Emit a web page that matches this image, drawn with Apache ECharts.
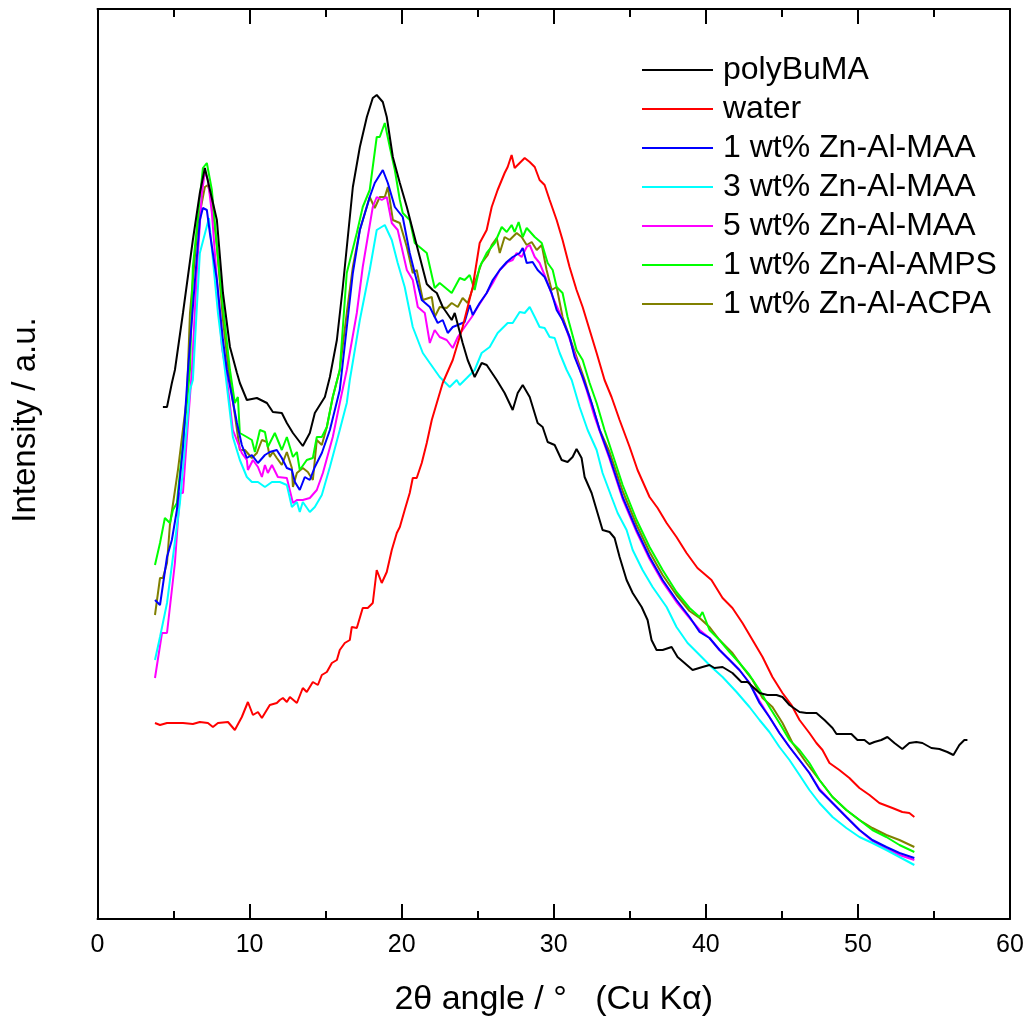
<!DOCTYPE html>
<html>
<head>
<meta charset="utf-8">
<script src="https://cdn.jsdelivr.net/npm/echarts@6/dist/echarts.min.js"></script>
<style>
html,body{margin:0;padding:0;background:#fff;}
#chart{width:1031px;height:1024px;}
</style>
</head>
<body>
<div id="chart"></div>
<script>
// ---- data: [2theta (deg), intensity (a.u.)] ----
const seriesNames = ['polyBuMA','water','1 wt% Zn-Al-MAA','3 wt% Zn-Al-MAA','5 wt% Zn-Al-MAA','1 wt% Zn-Al-AMPS','1 wt% Zn-Al-ACPA'];
const seriesColors = ['#000000','#ff0000','#0000ff','#00ffff','#ff00ff','#00ff00','#808000'];
const xTicks = [0,10,20,30,40,50,60];

const polyBuMA = [[4.30,512],[4.57,512],[4.89,536],[5.09,549],[5.62,606],[6.27,679],[6.73,726],[7.06,751],[7.85,699],[8.25,626],[8.71,572],[9.17,546],[9.36,536],[9.82,519],[10.48,521],[11.14,516],[11.53,507],[12.12,506],[12.45,496],[12.85,486],[13.50,473],[13.96,486],[14.29,506],[14.95,522],[15.28,542],[15.74,579],[16.13,632],[16.79,732],[17.25,772],[17.71,802],[18.10,821],[18.36,824],[18.76,817],[19.02,802],[19.42,762],[19.88,736],[20.34,712],[20.73,689],[21.19,662],[21.65,635],[22.04,629],[22.31,626],[22.70,612],[23.29,599],[23.49,606],[24.01,576],[24.34,559],[24.80,542],[25.26,556],[25.59,554],[26.25,539],[26.77,526],[27.30,509],[27.63,526],[27.96,534],[28.42,522],[28.94,496],[29.27,492],[29.60,477],[30.06,474],[30.52,459],[30.91,457],[31.24,462],[31.50,470],[31.83,461],[32.03,442],[32.49,426],[32.82,409],[33.21,389],[33.67,387],[34.00,381],[34.33,362],[34.79,339],[35.19,326],[35.78,312],[36.17,299],[36.43,279],[36.76,269],[37.16,269],[37.75,272],[38.14,262],[38.60,256],[39.13,249],[39.78,252],[40.24,254],[40.57,251],[41.10,252],[41.75,246],[42.34,237],[42.74,237],[43.53,226],[44.05,224],[44.65,224],[45.04,222],[45.50,214],[46.16,207],[46.62,206],[47.27,206],[47.80,199],[48.33,191],[48.59,185],[48.98,185],[49.57,185],[49.97,179],[50.43,179],[50.76,175],[51.08,177],[51.54,179],[51.94,182],[52.40,176],[52.92,170],[53.38,176],[53.84,177],[54.24,176],[54.83,171],[55.36,170],[55.88,167],[56.28,164],[56.67,174],[57.00,179],[57.20,179]];

const water = [[3.78,196],[4.11,194],[4.57,196],[4.96,196],[5.62,196],[6.27,195],[6.73,197],[7.26,196],[7.59,192],[7.92,196],[8.58,197],[9.03,189],[9.49,202],[9.89,217],[10.22,204],[10.55,207],[10.81,201],[11.33,214],[11.79,216],[11.99,219],[12.19,221],[12.45,217],[12.65,222],[13.11,216],[13.50,231],[13.76,227],[14.16,237],[14.49,234],[14.75,244],[15.08,247],[15.41,256],[15.74,259],[15.93,269],[16.26,276],[16.59,279],[16.72,292],[17.05,291],[17.44,311],[17.77,311],[18.10,316],[18.36,349],[18.69,336],[19.02,347],[19.35,369],[19.68,386],[19.88,392],[20.20,409],[20.53,426],[20.73,441],[20.99,441],[21.32,456],[21.65,476],[21.98,499],[22.31,516],[22.70,536],[23.36,559],[24.01,592],[24.67,632],[25.13,676],[25.59,689],[25.92,712],[26.31,729],[26.77,746],[26.97,752],[27.23,764],[27.43,751],[27.76,756],[28.09,761],[28.42,757],[28.75,752],[29.07,739],[29.40,734],[29.73,719],[30.19,699],[30.58,679],[31.04,652],[31.50,629],[31.90,612],[32.36,589],[32.82,566],[33.34,539],[33.80,522],[34.33,499],[34.99,472],[35.51,449],[36.30,422],[36.83,411],[37.42,396],[38.07,382],[38.73,366],[39.45,351],[40.37,339],[41.10,321],[41.75,311],[42.41,296],[43.07,279],[43.73,262],[44.38,242],[45.04,226],[45.63,214],[46.16,199],[46.81,186],[47.27,176],[47.67,169],[48.13,156],[48.78,149],[49.44,141],[50.10,131],[50.76,124],[51.41,116],[52.27,111],[52.92,107],[53.38,106],[53.71,102]];

const maa1 = [[3.78,319],[4.11,314],[4.57,362],[4.89,379],[5.22,409],[5.62,472],[5.95,549],[6.41,639],[6.73,699],[6.93,711],[7.19,709],[7.39,686],[7.85,639],[8.25,579],[8.51,549],[9.17,496],[9.49,474],[9.82,461],[10.15,464],[10.55,456],[11.01,464],[11.33,467],[11.79,469],[12.12,461],[12.45,451],[12.78,449],[12.98,437],[13.30,429],[13.63,442],[13.96,439],[14.29,452],[14.75,466],[15.28,489],[15.93,529],[16.79,646],[17.25,689],[17.90,722],[18.23,736],[18.76,749],[19.09,736],[19.55,712],[20.07,702],[20.53,666],[20.86,646],[21.32,619],[21.85,612],[22.37,596],[22.70,599],[23.03,586],[23.36,592],[23.69,594],[24.14,597],[24.47,614],[24.67,604],[25.13,616],[25.59,626],[25.99,639],[26.45,649],[26.91,657],[27.30,662],[27.76,666],[27.96,671],[28.22,656],[28.61,657],[28.94,649],[29.40,642],[29.86,626],[30.19,609],[30.58,599],[31.04,582],[31.37,562],[31.90,542],[32.49,516],[33.02,489],[33.67,462],[34.53,422],[35.45,389],[36.30,362],[37.16,339],[38.07,319],[38.93,302],[39.59,287],[40.24,281],[40.90,269],[41.56,259],[42.21,249],[42.87,236],[43.53,216],[44.18,202],[44.84,186],[45.50,172],[46.16,159],[46.81,146],[47.47,129],[48.33,116],[49.24,102],[50.10,89],[50.95,79],[51.87,72],[52.73,66],[53.71,61]];

const maa3 = [[3.78,259],[4.11,282],[4.57,316],[4.96,362],[5.42,416],[6.08,529],[6.27,539],[6.73,666],[7.33,701],[7.92,606],[8.38,549],[8.90,482],[9.36,459],[9.82,442],[10.15,437],[10.55,437],[11.01,432],[11.47,437],[11.99,437],[12.45,434],[12.78,412],[13.11,417],[13.30,407],[13.50,417],[13.96,407],[14.29,412],[14.75,424],[15.28,452],[15.93,489],[16.39,516],[16.59,539],[17.25,599],[17.90,649],[18.36,689],[18.89,694],[19.35,679],[19.74,656],[20.20,632],[20.73,592],[21.39,566],[21.85,556],[22.50,542],[23.16,532],[23.62,539],[23.82,534],[24.28,541],[24.80,549],[25.26,566],[25.79,572],[26.31,586],[26.97,596],[27.30,596],[27.76,607],[28.09,606],[28.42,612],[28.75,602],[29.07,592],[29.40,591],[29.73,582],[30.06,581],[30.39,566],[30.85,549],[31.18,539],[31.70,512],[32.23,489],[32.82,469],[33.21,446],[33.80,422],[34.20,406],[34.79,389],[35.19,369],[35.84,349],[36.50,332],[37.42,312],[38.07,292],[38.80,276],[39.59,264],[40.37,252],[41.10,242],[42.02,227],[42.87,212],[43.53,199],[44.18,187],[44.84,172],[45.50,159],[46.16,144],[46.81,129],[47.47,116],[48.33,102],[49.24,91],[50.10,82],[50.95,76],[51.87,69],[52.73,62],[53.71,54]];

const maa5 = [[3.78,241],[4.24,286],[4.57,286],[5.09,356],[5.42,426],[5.62,426],[5.88,482],[6.21,549],[6.54,650],[6.86,725],[7.06,748],[7.26,739],[7.52,706],[7.85,639],[8.18,572],[8.44,549],[8.90,489],[9.49,466],[9.82,459],[9.89,449],[10.22,459],[10.55,452],[10.81,442],[11.01,454],[11.20,446],[11.47,454],[11.86,442],[12.45,441],[12.85,416],[13.11,419],[13.50,419],[13.96,421],[14.42,429],[14.82,446],[15.47,482],[15.93,516],[16.39,549],[17.05,606],[17.44,652],[18.10,712],[18.36,722],[18.69,719],[19.02,722],[19.35,696],[19.74,689],[20.34,649],[20.73,639],[21.06,612],[21.52,606],[21.85,576],[22.17,589],[22.50,582],[22.96,579],[23.36,571],[23.69,582],[24.14,592],[24.61,602],[25.00,612],[25.59,626],[25.99,636],[26.45,649],[26.97,657],[27.30,659],[27.56,666],[27.89,662],[28.22,672],[28.42,674],[28.75,662],[29.07,656],[29.53,639],[29.93,622],[30.39,606],[30.91,586],[31.50,559],[32.16,529],[32.69,502],[33.67,460],[34.53,420],[35.45,387],[36.30,360],[37.16,337],[38.07,317],[38.93,301],[39.59,289],[40.24,281],[40.90,269],[41.56,259],[42.21,249],[42.87,236],[43.53,218],[44.18,202],[44.84,186],[45.50,172],[46.16,159],[46.81,146],[47.47,130],[48.33,116],[49.24,102],[50.10,89],[50.95,78],[51.87,70],[52.73,64],[53.71,59]];

const amps1 = [[3.78,354],[4.11,376],[4.43,401],[4.76,396],[4.96,409],[5.22,416],[5.88,516],[6.08,549],[6.27,652],[6.93,751],[7.19,756],[7.52,729],[7.92,662],[8.25,612],[8.71,549],[9.03,516],[9.23,522],[9.36,486],[9.82,482],[10.15,479],[10.35,467],[10.68,489],[11.01,487],[11.20,472],[11.66,486],[12.12,469],[12.45,482],[12.85,462],[13.11,467],[13.30,449],[13.76,459],[14.16,461],[14.42,482],[14.75,482],[15.08,492],[15.47,522],[15.93,549],[16.39,646],[17.05,686],[17.44,712],[17.90,729],[18.36,782],[18.56,782],[18.89,796],[19.22,772],[19.55,749],[19.88,719],[20.07,706],[20.53,699],[20.86,676],[21.65,666],[22.17,631],[22.50,636],[22.63,634],[23.29,626],[23.82,641],[24.14,639],[24.47,644],[24.80,629],[25.13,652],[25.59,666],[26.12,676],[26.58,692],[26.91,687],[27.23,694],[27.43,687],[27.69,697],[27.96,682],[28.22,691],[28.75,682],[29.21,676],[29.60,656],[29.93,649],[30.19,632],[30.58,626],[30.91,602],[31.50,569],[31.90,559],[32.36,536],[32.82,516],[33.34,489],[33.67,474],[34.53,434],[35.45,399],[36.30,372],[37.16,349],[38.07,327],[38.93,311],[39.59,302],[39.78,307],[40.24,289],[40.90,279],[41.56,267],[42.21,256],[42.87,244],[43.53,229],[44.18,212],[44.84,196],[45.50,179],[46.16,169],[46.81,156],[47.47,139],[48.33,122],[49.24,109],[50.10,99],[50.95,89],[51.87,82],[52.73,74],[53.71,67]];

const acpa1 = [[3.78,304],[4.11,341],[4.30,341],[4.57,356],[4.76,394],[5.29,449],[5.88,522],[6.08,606],[6.60,696],[7.06,732],[7.26,734],[7.52,719],[7.85,672],[8.25,599],[8.64,546],[9.36,469],[9.69,469],[10.15,461],[10.48,466],[10.81,479],[11.14,477],[11.33,462],[11.53,467],[11.79,461],[12.12,454],[12.45,467],[12.78,451],[12.85,432],[13.11,446],[13.50,451],[13.83,447],[14.16,439],[14.42,479],[14.75,474],[15.08,492],[15.47,522],[15.93,549],[16.39,606],[16.79,652],[17.25,689],[17.90,722],[18.23,711],[18.56,722],[18.89,722],[19.09,732],[19.42,699],[19.88,696],[20.34,672],[20.73,646],[20.99,649],[21.39,619],[21.98,622],[22.17,602],[22.50,612],[22.96,611],[23.29,616],[23.69,612],[24.01,621],[24.34,616],[24.80,636],[25.26,656],[25.66,664],[25.92,674],[26.25,681],[26.45,666],[26.77,682],[27.10,679],[27.56,686],[27.89,682],[28.22,674],[28.55,677],[28.88,669],[29.21,674],[29.53,649],[29.86,629],[30.19,632],[30.58,602],[31.04,582],[31.50,562],[32.03,539],[32.56,512],[33.02,489],[33.67,467],[34.53,428],[35.45,394],[36.30,367],[37.16,344],[38.07,324],[38.93,308],[39.59,301],[40.24,292],[40.90,279],[41.75,266],[42.41,252],[43.07,239],[43.73,221],[44.38,212],[45.04,196],[45.70,176],[46.62,156],[47.47,139],[48.33,122],[49.24,109],[50.10,99],[50.95,91],[51.87,84],[52.73,79],[53.71,72]];

const seriesData = [polyBuMA, water, maa1, maa3, maa5, amps1, acpa1];

const FONT = 'Liberation Sans, Arial, sans-serif';
const chart = echarts.init(document.getElementById('chart'), null, {renderer:'canvas'});

const baseX = {
  type:'value', min:xTicks[0], max:xTicks[xTicks.length-1], interval:10,
  axisLine:{show:true, onZero:false, lineStyle:{color:'#000', width:2}},
  axisTick:{show:true, inside:true, length:15, lineStyle:{color:'#000', width:2}},
  minorTick:{show:true, splitNumber:2, length:8, lineStyle:{color:'#000', width:2}},
  splitLine:{show:false}, minorSplitLine:{show:false}
};
const baseY = {
  type:'value', min:0, max:910,
  axisLine:{show:true, onZero:false, lineStyle:{color:'#000', width:2}},
  axisTick:{show:false}, axisLabel:{show:false}, splitLine:{show:false}
};

chart.setOption({
  animation:false,
  backgroundColor:'#fff',
  grid:{left:97.5, right:21, top:9, bottom:105, containLabel:false},
  xAxis:[
    Object.assign({}, baseX, {
      position:'bottom',
      axisLabel:{show:true, color:'#000', fontSize:25, fontFamily:FONT, margin:14},
      name:'2θ angle / °   (Cu Kα)', nameLocation:'middle', nameGap:64,
      nameTextStyle:{color:'#000', fontSize:34, fontFamily:FONT}
    }),
    Object.assign({}, baseX, {position:'top', axisLabel:{show:false}})
  ],
  yAxis:[
    Object.assign({}, baseY, {position:'left'}),
    Object.assign({}, baseY, {position:'right'})
  ],
  legend:{
    orient:'vertical', left:642, top:54, padding:0,
    icon:'rect', itemWidth:71, itemHeight:2, itemGap:7,
    textStyle:{color:'#000', fontSize:32, fontFamily:FONT, lineHeight:32, padding:[0,0,0,5]},
    data:seriesNames
  },
  graphic:[{
    type:'text', x:26, y:420, rotation:Math.PI/2,
    style:{text:'Intensity / a.u.', fill:'#000', font:'33px '+FONT,
      align:'center', verticalAlign:'middle', textAlign:'center', textVerticalAlign:'middle'}
  }],
  series: seriesNames.map((n,i)=>({
    name:n, type:'line', xAxisIndex:0, yAxisIndex:0,
    data:seriesData[i], symbol:'none', showSymbol:false, smooth:false,
    color:seriesColors[i],
    lineStyle:{color:seriesColors[i], width:2},
    z: 10 - i
  }))
});
</script>
</body>
</html>
